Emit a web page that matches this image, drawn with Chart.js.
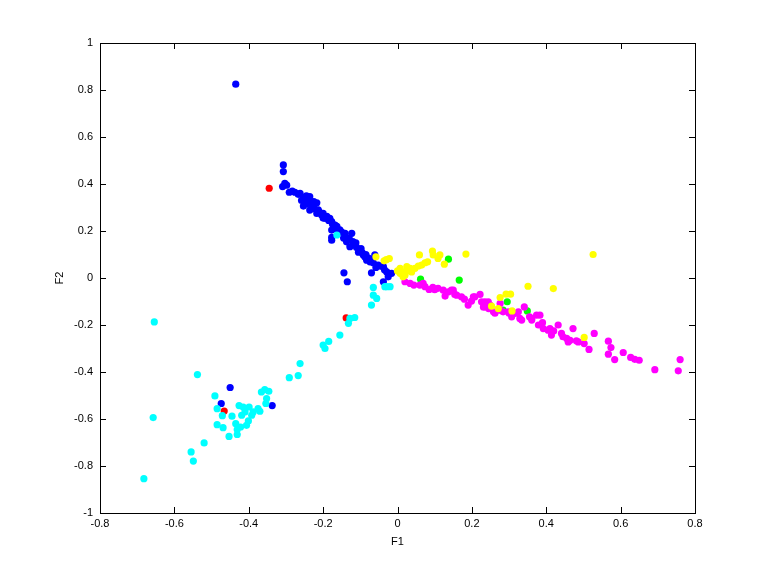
<!DOCTYPE html>
<html>
<head>
<meta charset="utf-8">
<script src="https://cdn.jsdelivr.net/npm/chart.js@4.4.0/dist/chart.umd.min.js"></script>
<style>
  html, body { margin: 0; padding: 0; background: #fff; }
  #wrap { width: 768px; height: 576px; }
</style>
</head>
<body>
<div id="wrap"><canvas id="chart" width="768" height="576"></canvas></div>
<script>
const X_TICKS = [-0.8, -0.6, -0.4, -0.2, 0, 0.2, 0.4, 0.6, 0.8];
const Y_TICKS = [-1, -0.8, -0.6, -0.4, -0.2, 0, 0.2, 0.4, 0.6, 0.8, 1];
const X_LABEL = "F1";
const Y_LABEL = "F2";

const bluePts = [
  [-0.307, 0.481], [-0.307, 0.453], [-0.303, 0.403], [-0.309, 0.389], [-0.298, 0.395],
  [-0.291, 0.365], [-0.276, 0.365], [-0.267, 0.356], [-0.262, 0.36], [-0.253, 0.342],
  [-0.245, 0.35], [-0.236, 0.346], [-0.24, 0.33], [-0.253, 0.306], [-0.245, 0.315],
  [-0.236, 0.318], [-0.225, 0.325], [-0.217, 0.32], [-0.225, 0.305], [-0.236, 0.289],
  [-0.23, 0.295], [-0.217, 0.275], [-0.21, 0.28], [-0.204, 0.268], [-0.2, 0.275],
  [-0.195, 0.254], [-0.19, 0.262], [-0.182, 0.254], [-0.177, 0.24], [-0.185, 0.245],
  [-0.168, 0.225], [-0.175, 0.23], [-0.177, 0.204], [-0.177, 0.173], [-0.172, 0.215],
  [-0.165, 0.21], [-0.16, 0.2], [-0.155, 0.205], [-0.15, 0.195], [-0.177, 0.161],
  [-0.141, 0.19], [-0.123, 0.19], [-0.137, 0.154], [-0.145, 0.17], [-0.13, 0.17],
  [-0.128, 0.133], [-0.115, 0.14], [-0.12, 0.155], [-0.11, 0.13], [-0.101, 0.119],
  [-0.105, 0.11], [-0.095, 0.108], [-0.092, 0.098], [-0.088, 0.09], [-0.083, 0.076],
  [-0.078, 0.085], [-0.074, 0.069], [-0.061, 0.098], [-0.065, 0.065], [-0.052, 0.055],
  [-0.058, 0.045], [-0.045, 0.05], [-0.038, 0.048], [-0.029, 0.026], [-0.035, 0.035],
  [-0.016, 0.02], [-0.025, 0.005], [-0.038, -0.016], [-0.144, 0.022], [-0.135, -0.016],
  [-0.07, 0.022], [-0.435, 0.825], [-0.45, -0.466], [-0.474, -0.534], [-0.337, -0.543],
  [-0.283, 0.37], [-0.258, 0.33], [-0.213, 0.29], [-0.2, 0.255], [-0.163, 0.22],
  [-0.14, 0.175], [-0.112, 0.15], [-0.098, 0.125], [-0.085, 0.1], [-0.07, 0.08]
];

const redPts = [[-0.345, 0.382], [-0.138, -0.17], [-0.466, -0.566]];

const greenPts = [
  [0.137, 0.08], [0.166, -0.009], [0.062, -0.005], [0.295, -0.101], [0.349, -0.14], [0.284, -0.137]
];

const magentaPts = [
  [0.02, -0.016], [0.034, -0.023], [0.044, -0.03], [0.069, -0.023], [0.074, -0.037],
  [0.085, -0.049], [0.109, -0.044], [0.123, -0.052], [0.137, -0.059], [0.128, -0.077],
  [0.145, -0.052], [0.15, -0.052], [0.154, -0.07], [0.159, -0.073], [0.172, -0.08],
  [0.19, -0.115], [0.199, -0.098], [0.204, -0.08], [0.208, -0.08], [0.222, -0.07],
  [0.226, -0.101], [0.235, -0.101], [0.231, -0.123], [0.235, -0.123], [0.244, -0.101],
  [0.249, -0.115], [0.258, -0.144], [0.262, -0.15], [0.276, -0.108], [0.276, -0.137],
  [0.284, -0.144], [0.298, -0.144], [0.307, -0.165], [0.316, -0.151], [0.325, -0.144],
  [0.329, -0.172], [0.334, -0.179], [0.341, -0.123], [0.361, -0.179], [0.361, -0.172],
  [0.374, -0.158], [0.379, -0.2], [0.383, -0.158], [0.392, -0.215], [0.405, -0.222],
  [0.41, -0.215], [0.414, -0.243], [0.432, -0.2], [0.441, -0.236], [0.455, -0.257],
  [0.464, -0.265], [0.472, -0.215], [0.459, -0.272], [0.481, -0.267], [0.486, -0.272],
  [0.502, -0.279], [0.515, -0.304], [0.529, -0.236], [0.567, -0.269], [0.574, -0.296],
  [0.567, -0.324], [0.584, -0.347], [0.607, -0.317], [0.627, -0.338], [0.638, -0.346],
  [0.65, -0.35], [0.692, -0.39], [0.755, -0.395], [0.76, -0.347], [0.39, -0.19],
  [0.42, -0.225], [0.445, -0.25], [0.355, -0.165], [0.3, -0.15], [0.245, -0.13],
  [0.18, -0.09], [0.095, -0.04], [0.1, -0.05], [0.06, -0.03]
];

const cyanPts = [
  [-0.163, 0.183], [-0.065, -0.04], [-0.034, -0.037], [-0.02, -0.037], [-0.029, -0.037],
  [-0.065, -0.073], [-0.056, -0.087], [-0.07, -0.115], [-0.128, -0.172], [-0.115, -0.168],
  [-0.132, -0.193], [-0.155, -0.243], [-0.185, -0.27], [-0.195, -0.3], [-0.2, -0.285],
  [-0.262, -0.364], [-0.291, -0.424], [-0.267, -0.415], [-0.654, -0.187], [-0.538, -0.411],
  [-0.657, -0.594], [-0.682, -0.854], [-0.555, -0.74], [-0.549, -0.779], [-0.52, -0.702],
  [-0.491, -0.502], [-0.485, -0.556], [-0.471, -0.586], [-0.485, -0.624], [-0.469, -0.637],
  [-0.453, -0.674], [-0.445, -0.588], [-0.431, -0.666], [-0.435, -0.62], [-0.426, -0.543],
  [-0.415, -0.549], [-0.399, -0.549], [-0.419, -0.584], [-0.41, -0.57], [-0.431, -0.645],
  [-0.422, -0.634], [-0.406, -0.627], [-0.401, -0.608], [-0.392, -0.584], [-0.388, -0.57],
  [-0.375, -0.556], [-0.37, -0.567], [-0.366, -0.485], [-0.357, -0.475], [-0.346, -0.482],
  [-0.352, -0.513], [-0.354, -0.534]
];

const yellowPts = [
  [-0.058, 0.09], [-0.036, 0.073], [-0.022, 0.083], [-0.03, 0.078], [0.007, 0.041],
  [0.02, 0.026], [0.007, 0.02], [0.025, 0.048], [0.011, 0.02], [0.02, 0.012],
  [0.034, 0.041], [0.038, 0.026], [0.047, 0.041], [0.056, 0.051], [0.065, 0.055],
  [0.074, 0.065], [0.081, 0.069], [0.059, 0.098], [0.094, 0.115], [0.096, 0.098],
  [0.114, 0.098], [0.109, 0.083], [0.126, 0.059], [0.184, 0.102], [0.028, 0.03],
  [0.0, 0.03], [0.015, 0.005], [0.351, -0.035], [0.419, -0.045], [0.526, 0.1],
  [0.276, -0.083], [0.292, -0.069], [0.304, -0.069], [0.253, -0.12], [0.271, -0.13],
  [0.308, -0.14], [0.502, -0.253]
];

function toXY(pts) {
  return pts.map((p) => ({ x: p[0], y: p[1] }));
}

function fmtTick(v) {
  const r = Math.round(v * 10) / 10;
  return r === 0 ? "0" : String(r);
}

function series(pts, color) {
  return {
    data: toXY(pts),
    backgroundColor: color,
    borderColor: color,
    borderWidth: 0,
    pointRadius: 3.6,
    pointHoverRadius: 3.6,
  };
}

const font = { family: "'Liberation Sans', Arial, sans-serif", size: 11 };

// box, inward ticks and axis labels, matlab style
const boxPlugin = {
  id: "box",
  afterDraw(chart) {
    const { ctx, chartArea: a, scales } = chart;
    ctx.save();
    ctx.strokeStyle = "#000";
    ctx.lineWidth = 1;
    ctx.strokeRect(a.left + 0.5, a.top + 0.5, a.right - a.left, a.bottom - a.top);
    ctx.beginPath();
    X_TICKS.forEach((t) => {
      const px = Math.round(scales.x.getPixelForValue(t)) + 0.5;
      ctx.moveTo(px, a.bottom); ctx.lineTo(px, a.bottom - 6);
      ctx.moveTo(px, a.top); ctx.lineTo(px, a.top + 6);
    });
    Y_TICKS.forEach((t) => {
      const py = Math.round(scales.y.getPixelForValue(t)) + 0.5;
      ctx.moveTo(a.left, py); ctx.lineTo(a.left + 6, py);
      ctx.moveTo(a.right, py); ctx.lineTo(a.right - 6, py);
    });
    ctx.stroke();

    ctx.fillStyle = "#000";
    ctx.font = `${font.size}px ${font.family}`;
    ctx.textAlign = "center";
    ctx.textBaseline = "middle";
    ctx.fillText(X_LABEL, (a.left + a.right) / 2, a.bottom + 29);
    ctx.translate(a.left - 40, (a.top + a.bottom) / 2);
    ctx.rotate(-Math.PI / 2);
    ctx.fillText(Y_LABEL, 0, 0);
    ctx.restore();
  },
};

new Chart(document.getElementById("chart"), {
  type: "scatter",
  data: {
    datasets: [
      series(yellowPts, "#ffff00"),
      series(cyanPts, "#00ffff"),
      series(magentaPts, "#ff00ff"),
      series(greenPts, "#00ff00"),
      series(redPts, "#ff0000"),
      series(bluePts, "#0000ff"),
    ],
  },
  options: {
    responsive: false,
    animation: false,
    events: [],
    layout: { padding: { top: 43, right: 73, left: 0, bottom: 0 } },
    plugins: {
      legend: { display: false },
      tooltip: { enabled: false },
    },
    scales: {
      x: {
        type: "linear",
        min: -0.8,
        max: 0.8,
        afterBuildTicks: (s) => { s.ticks = X_TICKS.map((v) => ({ value: v })); },
        afterFit: (s) => { s.height = 63; },
        ticks: { callback: fmtTick, color: "#000", font, padding: 4, maxRotation: 0 },
        grid: { display: false, drawTicks: false },
        border: { display: false },
      },
      y: {
        type: "linear",
        min: -1,
        max: 1,
        afterBuildTicks: (s) => { s.ticks = Y_TICKS.map((v) => ({ value: v })); },
        afterFit: (s) => { s.width = 100; },
        ticks: { callback: fmtTick, color: "#000", font, padding: 7 },
        grid: { display: false, drawTicks: false },
        border: { display: false },
      },
    },
  },
  plugins: [boxPlugin],
});
</script>
</body>
</html>
